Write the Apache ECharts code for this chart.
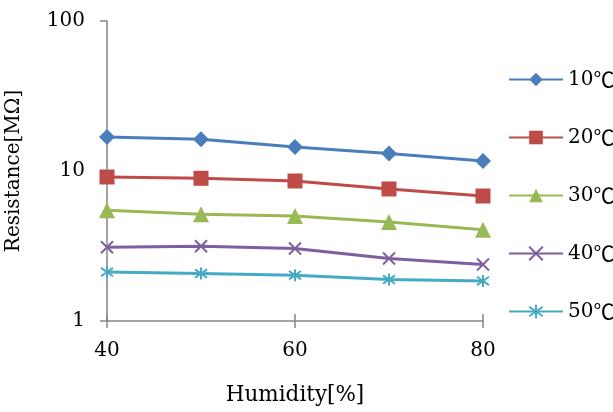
<!DOCTYPE html>
<html>
<head>
<meta charset="utf-8">
<script src="https://cdn.jsdelivr.net/npm/echarts@6/dist/echarts.min.js"></script>
<style>html,body{margin:0;padding:0;background:#fff}#c{width:613px;height:412px}</style>
</head>
<body>
<div id="c"></div>
<script>
const humidity = [40, 50, 60, 70, 80];
const seriesNames = ['10℃', '20℃', '30℃', '40℃', '50℃'];
const r10 = [16.85, 16.26, 14.45, 13.06, 11.66];
const r20 = [9.12, 8.94, 8.58, 7.59, 6.81];
const r30 = [5.47, 5.14, 5.01, 4.57, 4.06];
const r40 = [3.10, 3.15, 3.04, 2.61, 2.38];
const r50 = [2.12, 2.07, 2.02, 1.89, 1.85];
const allValues = [r10, r20, r30, r40, r50];
const colors = ['#4A7EBB', '#BE4B48', '#98B954', '#7D5FA0', '#46AAC5'];
const symbols = [
  'diamond', 'rect', 'triangle',
  'path://M0,0 L10,10 M10,0 L0,10',
  'path://M5,0 L5,10 M0,1.5 L10,8.5 M0,8.5 L10,1.5'
];
const symbolSizes = [16, 15, 16, 12, 12];
const legendCenters = [75, 133, 191, 249, 307];
const FONT = '"DejaVu Serif", serif';

const chart = echarts.init(document.getElementById('c'), null, {renderer: 'canvas'});
const series = allValues.map((vals, i) => ({
  name: seriesNames[i],
  type: 'line',
  data: humidity.map((h, j) => [h, vals[j]]),
  symbol: symbols[i],
  symbolSize: symbolSizes[i],
  showAllSymbol: true,
  lineStyle: {color: colors[i], width: 3},
  itemStyle: {color: colors[i], borderColor: colors[i], borderWidth: i >= 3 ? 2 : 0},
  emphasis: {disabled: true},
  z: 3
}));

const legends = seriesNames.map((n, i) => ({
  orient: 'vertical',
  left: 503,
  top: legendCenters[i] - 11,
  itemWidth: 54,
  itemHeight: 17,
  itemGap: 0,
  selectedMode: false,
  formatter: (name) => '{n|' + name.replace('℃', '') + '}{c|℃}',
  textStyle: {
    padding: [0, 0, 0, 0],
    rich: {
      n: {fontFamily: FONT, fontSize: 20, color: '#000'},
      c: {fontFamily: '"Noto Sans CJK JP", sans-serif', fontSize: 21, color: '#000'}
    }
  },
  data: [n]
}));

chart.setOption({
  animation: false,
  backgroundColor: '#fff',
  color: colors,
  grid: {left: 107, right: 130, top: 21, bottom: 91, outerBoundsMode: 'none', containLabel: false},
  legend: legends,
  xAxis: [{
    type: 'value',
    min: 40, max: 80, interval: 20,
    name: 'Humidity[%]',
    nameLocation: 'middle',
    nameGap: 63,
    nameTextStyle: {fontFamily: FONT, fontSize: 21.5, color: '#000'},
    axisLine: {lineStyle: {color: '#868686', width: 1.5}},
    axisTick: {show: false},
    axisLabel: {fontFamily: FONT, fontSize: 20, color: '#000', margin: 20},
    splitLine: {show: false}
  }, {
    type: 'value',
    position: 'bottom',
    offset: -7,
    min: 40, max: 80, interval: 20,
    axisLine: {show: false},
    axisTick: {show: true, length: 14, lineStyle: {color: '#868686', width: 1.5}},
    axisLabel: {show: false},
    splitLine: {show: false}
  }],
  yAxis: {
    type: 'log',
    logBase: 10,
    min: 1, max: 100,
    name: 'Resistance[MΩ]',
    nameLocation: 'middle',
    nameGap: 83,
    nameRotate: 90,
    nameTextStyle: {fontFamily: FONT, fontSize: 20, color: '#000'},
    axisLine: {show: true, lineStyle: {color: '#868686', width: 1.5}},
    axisTick: {show: true, length: 7, lineStyle: {color: '#868686', width: 1.5}},
    axisLabel: {fontFamily: FONT, fontSize: 20, color: '#000', margin: 22},
    splitLine: {show: false}
  },
  series: series
});
</script>
</body>
</html>
